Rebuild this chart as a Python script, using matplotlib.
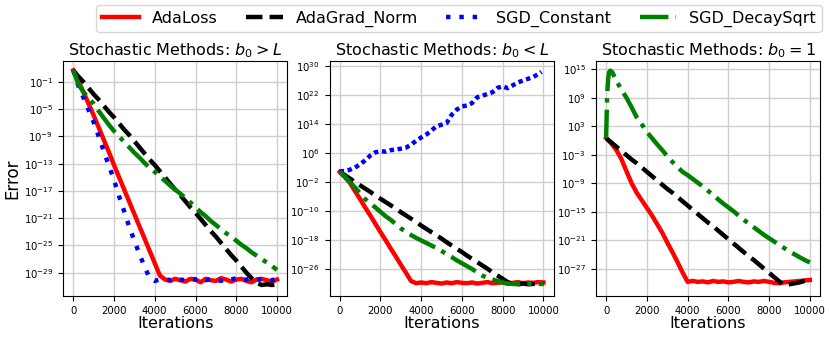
import matplotlib
matplotlib.use("Agg")
import matplotlib.pyplot as plt
import numpy as np
from matplotlib.ticker import FixedLocator, NullLocator

# iteration grid (every 250 iterations)
iters = list(range(0, 10001, 250))

# values are log10(error)
# panel 1: b0 > L
p1_adaloss = [0.7, -0.9, -2.5, -4.2, -5.9, -7.7, -9.5, -11.3, -13.2, -15.0,
              -16.8, -18.6, -20.4, -22.2, -24.0, -25.8, -27.6, -29.4,
              -30.0, -30.2, -29.9, -30.1, -30.3, -29.9, -30.0, -30.4, -29.9, -30.1,
              -30.2, -29.8, -30.0, -30.3, -30.0, -29.9, -30.2, -30.4, -30.0, -29.9,
              -30.1, -30.3, -30.0]
p1_adagrad = [0.7, -0.2, -1.0, -1.9, -2.8, -3.6, -4.5, -5.4, -6.2, -7.1,
              -8.0, -8.8, -9.7, -10.6, -11.5, -12.4, -13.2, -14.1, -15.0, -15.9,
              -16.8, -17.6, -18.5, -19.4, -20.2, -21.1, -22.0, -22.9, -23.7, -24.6,
              -25.5, -26.4, -27.2, -28.1, -29.0, -29.8, -30.5, -30.8, -30.7, -30.8,
              -30.7]
p1_sgdconst = [0.7, -1.6, -3.3, -5.1, -6.9, -9.0, -11.2, -13.3, -15.4, -17.8,
               -20.0, -22.3, -24.3, -26.3, -28.1, -29.8, -30.2,
               -30.0, -29.9, -30.1, -29.8, -30.0, -30.1, -29.9, -30.0, -29.8, -30.1,
               -29.9, -30.0, -30.2, -29.9, -30.0, -29.8, -30.1, -30.0, -29.9, -30.1,
               -29.9, -30.0, -30.1, -29.9]
p1_sgddecay = [0.7, -1.3, -2.5, -3.4, -4.2, -5.3, -6.3, -7.3, -8.2, -9.0,
               -9.8, -10.6, -11.4, -12.1, -12.9, -13.6, -14.2, -14.9, -15.5, -16.2,
               -16.8, -17.4, -18.0, -18.7, -19.4, -20.1, -20.7, -21.4, -22.0, -22.6,
               -23.2, -23.7, -24.3, -24.9, -25.4, -26.0, -26.5, -27.0, -27.5, -28.0,
               -28.6]

# panel 2: b0 < L
p2_adaloss = [0.8, -0.6, -2.2, -4.5, -6.7, -9.0, -11.2, -13.5, -15.8, -18.0,
              -20.3, -22.5, -24.8, -27.0, -29.3, -29.9,
              -29.7, -29.9, -29.6, -29.8, -30.0, -29.7, -29.9, -29.6, -29.8, -29.9,
              -29.7, -30.0, -29.8, -29.6, -29.9, -29.8, -29.7, -30.0, -29.8, -29.6,
              -29.9, -29.7, -29.8, -29.6, -29.7]
p2_adagrad = [0.8, -0.1, -1.0, -2.0, -2.9, -3.8, -4.7, -5.7, -6.6, -7.5,
              -8.4, -9.3, -10.3, -11.2, -12.1, -13.0, -14.0, -14.9, -15.8, -16.7,
              -17.6, -18.6, -19.5, -20.4, -21.3, -22.3, -23.2, -24.1, -25.0, -25.9,
              -26.9, -27.8, -28.7, -29.6, -30.1, -30.2, -30.0, -30.2, -30.1, -30.0,
              -30.1]
p2_sgdconst_iters = list(range(0, 10000, 250)) + [9900]
p2_sgdconst = [0.9, 1.1, 1.4, 2.0, 2.9, 4.0, 5.3, 6.2, 6.5, 6.4,
               6.8, 7.0, 7.2, 7.5, 8.3, 9.4, 10.3, 11.1, 12.2, 13.4,
               13.8, 14.3, 16.6, 18.0, 18.9, 19.1, 19.8, 21.4, 21.8, 22.3,
               22.8, 24.0, 24.4, 23.9, 24.7, 25.5, 26.0, 26.5, 27.0, 27.8,
               28.4]
p2_sgddecay = [0.8, -0.5, -2.0, -3.5, -5.1, -6.7, -7.9, -9.0, -10.2, -11.4,
               -12.4, -13.6, -14.8, -15.7, -16.6, -17.4, -18.1, -18.8, -19.5, -20.2,
               -21.0, -21.9, -22.7, -23.6, -24.4, -25.2, -26.0, -26.9, -27.8, -28.4,
               -28.9, -29.3, -29.7, -30.0, -30.1, -30.2, -30.1, -30.0, -30.2, -30.1,
               -30.1]

# panel 3: b0 = 1 (no SGD_Constant curve)
p3_adaloss = [0.5, -0.6, -2.0, -3.9, -6.5, -9.0, -11.0, -12.6, -14.2, -15.8,
              -17.6, -19.4, -21.5, -23.5, -25.6, -27.8, -29.8, -29.6,
              -29.8, -29.7, -29.9, -29.6, -29.8, -29.7, -29.9, -29.8, -29.6, -29.8,
              -29.9, -29.7, -29.8, -29.6, -29.8, -30.0, -30.1, -29.9, -29.8, -29.7,
              -29.6, -29.5, -29.4]
p3_adagrad = [0.5, -0.4, -1.3, -2.2, -3.1, -4.0, -4.8, -5.7, -6.6, -7.5,
              -8.4, -9.3, -10.2, -11.0, -11.9, -12.8, -13.7, -14.6, -15.5, -16.4,
              -17.3, -18.1, -19.0, -19.9, -20.8, -21.7, -22.6, -23.5, -24.4, -25.2,
              -26.1, -27.0, -27.9, -28.8, -29.7, -30.5, -30.3, -30.1, -29.9, -29.6,
              -29.4]
p3_sgddecay_iters = [0, 25, 50, 100, 150, 200, 300, 500, 750, 1000] + list(range(1250, 10001, 250))
p3_sgddecay = [0.5, 5.0, 9.5, 13.0, 14.4, 14.7, 14.4, 12.6, 10.7, 9.0,
               7.0, 4.9, 3.4, 1.8, 0.5, -0.8, -2.0, -3.3, -4.5, -5.6,
               -6.6, -7.3, -8.1, -8.9, -9.7, -10.6, -11.5, -12.4, -13.3, -14.1,
               -14.9, -15.8, -16.7, -17.5, -18.3, -19.1, -19.9, -20.6, -21.3, -22.0,
               -22.7, -23.4, -24.0, -24.6, -25.2, -25.7]

titles = [r"Stochastic Methods: $b_0 > L$",
          r"Stochastic Methods: $b_0 < L$",
          r"Stochastic Methods: $b_0 = 1$"]
ytick_exps = [list(range(-29, 2, 4)), list(range(-26, 31, 8)), list(range(-27, 16, 6))]
ylims = [(-32.4, 2.07), (-33.4, 31.4), (-32.75, 16.75)]

lw = 3.2
fig = plt.figure(figsize=(8.3, 3.37), dpi=100)
lefts = [0.076, 0.397, 0.718]
axes = [fig.add_axes([l, 0.122, 0.270, 0.697]) for l in lefts]

def draw(ax, x, y, style):
    return ax.plot(x, 10.0 ** np.array(y), **style)[0]

st_red = dict(color="red", lw=lw, ls="-", label="AdaLoss")
st_black = dict(color="black", lw=lw, ls="--", label="AdaGrad_Norm")
st_blue = dict(color="blue", lw=lw, ls=(0, (1, 2)), label="SGD_Constant")
st_green = dict(color="green", lw=lw, ls="-.", label="SGD_DecaySqrt")

ax = axes[0]
h1 = draw(ax, iters, p1_adaloss, st_red)
h2 = draw(ax, iters, p1_adagrad, st_black)
h3 = draw(ax, iters, p1_sgdconst, st_blue)
h4 = draw(ax, iters, p1_sgddecay, st_green)

ax = axes[1]
draw(ax, iters, p2_adaloss, st_red)
draw(ax, iters, p2_adagrad, st_black)
# the noisy diverging run looks like densely packed dots
draw(ax, p2_sgdconst_iters, p2_sgdconst, dict(st_blue, ls=(0, (1, 0.8))))
draw(ax, iters, p2_sgddecay, st_green)

ax = axes[2]
draw(ax, iters, p3_adaloss, st_red)
draw(ax, iters, p3_adagrad, st_black)
draw(ax, p3_sgddecay_iters, p3_sgddecay, st_green)

for i, ax in enumerate(axes):
    ax.set_yscale("log")
    ax.set_ylim(10.0 ** ylims[i][0], 10.0 ** ylims[i][1])
    ax.set_xlim(-500, 10500)
    ax.yaxis.set_major_locator(FixedLocator([10.0 ** e for e in ytick_exps[i]]))
    ax.yaxis.set_minor_locator(NullLocator())
    ax.set_xticks([0, 2000, 4000, 6000, 8000, 10000])
    ax.tick_params(labelsize=7.3)
    ax.grid(True, color="#cfcfcf", lw=1.0)
    ax.set_title(titles[i], fontsize=11.5, pad=4)
    ax.set_xlabel("Iterations", fontsize=11.5, labelpad=0)
axes[0].set_ylabel("Error", fontsize=12, labelpad=2)

fig.legend(handles=[h1, h2, h3, h4], loc="upper center", ncol=4,
           bbox_to_anchor=(0.553, 0.985), borderaxespad=0, fontsize=11.5,
           columnspacing=1.8, handlelength=2.3, borderpad=0.35)

fig.savefig("out.png", dpi=100)
